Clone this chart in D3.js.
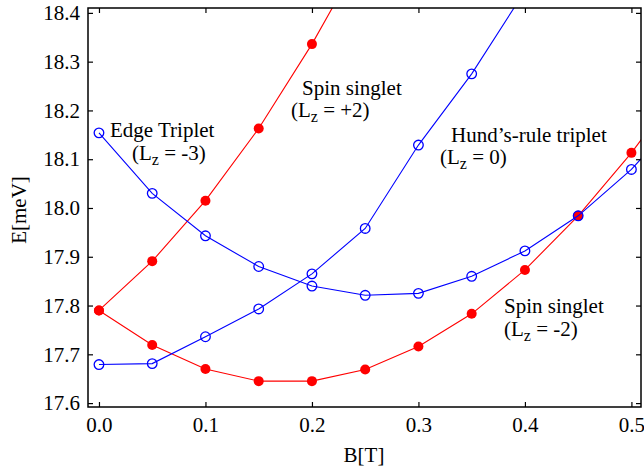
<!DOCTYPE html>
<html>
<head>
<meta charset="utf-8">
<script src="https://cdn.jsdelivr.net/npm/d3@7"></script>
<style>
body { margin: 0; background: white; }
svg text { font-family: "Liberation Serif", "Times New Roman", serif; }
</style>
</head>
<body>
<svg id="mainSvg" width="644" height="472"></svg>
<script>
// field values B[T]
var fieldB = [0.0, 0.05, 0.1, 0.15, 0.2, 0.25, 0.3, 0.35, 0.4, 0.45, 0.5, 0.55];
// energies E[meV]
var singletPlus2 = [17.790, 17.891, 18.015, 18.163, 18.336, 18.53];
var singletMinus2 = [17.790, 17.719, 17.670, 17.645, 17.645, 17.669, 17.716, 17.783, 17.873, 17.984, 18.113, 18.26];
var edgeTriplet = [18.154, 18.030, 17.943, 17.880, 17.840, 17.821, 17.825, 17.860, 17.912, 17.984, 18.079, 18.20];
var hundTriplet = [17.679, 17.681, 17.736, 17.793, 17.865, 17.958, 18.129, 18.275, 18.445];

var xTicks = [0.0, 0.1, 0.2, 0.3, 0.4, 0.5];
var yTicks = [17.6, 17.7, 17.8, 17.9, 18.0, 18.1, 18.2, 18.3, 18.4];

var plotLeft = 88, plotRight = 641, plotTop = 8, plotBottom = 407;
var fontSize = 21;

var svg = d3.select("#mainSvg");

var x = d3.scaleLinear().domain([-0.0103, 0.509]).range([plotLeft, plotRight]);
var y = d3.scaleLinear().domain([17.592, 18.41]).range([plotBottom, plotTop]);

svg.append("defs").append("clipPath")
    .attr("id", "plotClip")
    .append("rect")
    .attr("x", plotLeft).attr("y", plotTop)
    .attr("width", plotRight - plotLeft).attr("height", plotBottom - plotTop);

function toPoints(vals){
    return vals.map(function(v, i){ return {b: fieldB[i], e: v}; });
}

var series = [
    {vals: singletPlus2, color: "#ff0000", filled: true},
    {vals: singletMinus2, color: "#ff0000", filled: true},
    {vals: edgeTriplet, color: "#0000ff", filled: false},
    {vals: hundTriplet, color: "#0000ff", filled: false}
];

var line = d3.line()
    .x(function(d){ return x(d.b); })
    .y(function(d){ return y(d.e); });

var plotG = svg.append("g").attr("clip-path", "url(#plotClip)");

series.forEach(function(s){
    var pts = toPoints(s.vals);
    plotG.append("path")
        .datum(pts)
        .attr("d", line)
        .attr("fill", "none")
        .attr("stroke", s.color)
        .attr("stroke-width", 1.1);
    plotG.selectAll(null)
        .data(pts)
        .enter()
        .append("circle")
        .attr("cx", function(d){ return x(d.b); })
        .attr("cy", function(d){ return y(d.e); })
        .attr("r", s.filled ? 5 : 4.8)
        .attr("fill", s.filled ? s.color : "none")
        .attr("stroke", s.color)
        .attr("stroke-width", s.filled ? 0 : 1.3);
});

// axes, ticks inside
var axisG = svg.append("g").attr("class", "axes");

axisG.append("g")
    .attr("transform", "translate(0," + plotBottom + ")")
    .call(d3.axisBottom(x).tickValues(xTicks).tickSizeInner(-5).tickSizeOuter(0).tickPadding(10)
        .tickFormat(d3.format(".1f")));
axisG.append("g")
    .attr("transform", "translate(0," + plotTop + ")")
    .call(d3.axisTop(x).tickValues(xTicks).tickSizeInner(-5).tickSizeOuter(0).tickFormat(""));
axisG.append("g")
    .attr("transform", "translate(" + plotLeft + ",0)")
    .call(d3.axisLeft(y).tickValues(yTicks).tickSizeInner(-5).tickSizeOuter(0).tickPadding(8)
        .tickFormat(d3.format(".1f")));
axisG.append("g")
    .attr("transform", "translate(" + plotRight + ",0)")
    .call(d3.axisRight(y).tickValues(yTicks).tickSizeInner(-5).tickSizeOuter(0).tickFormat(""));

axisG.selectAll(".domain").remove();
axisG.selectAll(".tick line").attr("stroke", "black").attr("stroke-width", 1.2);
axisG.selectAll(".tick text")
    .attr("fill", "black")
    .attr("font-size", fontSize)
    .attr("font-family", "Liberation Serif, serif");

svg.append("rect")
    .attr("x", plotLeft).attr("y", plotTop)
    .attr("width", plotRight - plotLeft).attr("height", plotBottom - plotTop)
    .attr("fill", "none")
    .attr("stroke", "black")
    .attr("stroke-width", 1.5);

// axis titles
svg.append("text")
    .attr("x", 364).attr("y", 462)
    .attr("text-anchor", "middle")
    .attr("font-size", fontSize)
    .text("B[T]");
svg.append("text")
    .attr("transform", "translate(26,210) rotate(-90)")
    .attr("text-anchor", "middle")
    .attr("font-size", fontSize)
    .text("E[meV]");

// state labels
var labels = [
    {line1: "Edge Triplet", lz: "-3", x1: 110, y1: 137, x2: 132, y2: 160},
    {line1: "Spin singlet", lz: "+2", x1: 302, y1: 95, x2: 291, y2: 117},
    {line1: "Hund\u2019s-rule triplet", lz: "0", x1: 451, y1: 142, x2: 440, y2: 164},
    {line1: "Spin singlet", lz: "-2", x1: 504, y1: 313, x2: 504, y2: 336}
];

labels.forEach(function(l){
    svg.append("text")
        .attr("x", l.x1).attr("y", l.y1)
        .attr("font-size", fontSize)
        .text(l.line1);
    var t = svg.append("text")
        .attr("x", l.x2).attr("y", l.y2)
        .attr("font-size", fontSize);
    t.append("tspan").text("(L");
    t.append("tspan").attr("dy", 5).attr("font-size", 16).text("z");
    t.append("tspan").attr("dy", -5).text(" = " + l.lz + ")");
});
</script>
</body>
</html>
